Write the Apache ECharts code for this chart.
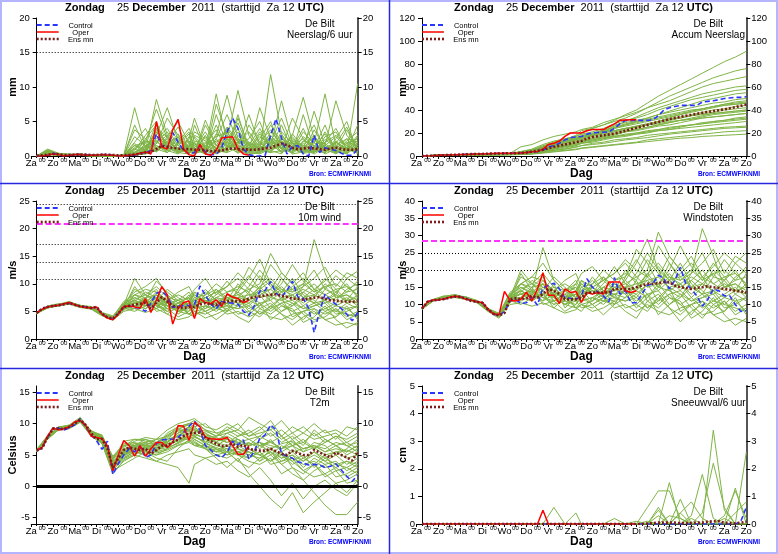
<!DOCTYPE html>
<html><head><meta charset="utf-8">
<script src="https://cdn.jsdelivr.net/npm/echarts@6/dist/echarts.min.js"></script>
<style>html,body{margin:0;padding:0;background:#fff}#c{width:778px;height:554px}</style>
</head><body><div id="c"></div><script>
// ---------- time axes (hours after Za 12 UTC) ----------
const H6 = [6,12,18,24,30,36,42,48,54,60,66,72,78,84,90,96,102,108,114,120,126,132,138,144,150,156,162,168,174,180,186,192,198,204,210,216,222,228,234,240,246,252,258,264,270,276,282,288,294,300,306,312,318,324,330,336,342,348,354,360];
const H12 = [6,18,30,42,54,66,78,90,102,114,126,138,150,162,174,180,192,204,216,228,240,252,264,276,288,300,312,324,336,348,360];
const DAYS = ['Za','Zo','Ma','Di','Wo','Do','Vr','Za','Zo','Ma','Di','Wo','Do','Vr','Za','Zo'];

// ---------- y tick labels ----------
const Y1_TICKS = [0,5,10,15,20];
const Y2_TICKS = [0,20,40,60,80,100,120];
const Y3_TICKS = [0,5,10,15,20,25];
const Y4_TICKS = [0,5,10,15,20,25,30,35,40];
const Y5_TICKS = [-5,0,5,10,15];
const Y6_TICKS = [0,1,2,3,4,5];

// ---------- panel 1: Neerslag/6 uur ----------
const P1_ctrl = [0,0,0.1,0.4,0.2,0,0.1,0.2,0.2,0.2,0.1,0.1,0.2,0.2,0.1,0,0,0.1,0.1,0.4,0.5,0.8,3.2,1.5,1.1,3.4,2.0,0.8,0.3,0.5,1.5,0.6,0.2,0.2,1.2,3.5,5.5,4.0,1.0,0.2,0,0,0.1,3.0,5.4,2.6,0.3,1.4,1.5,0.3,0,3.0,0.5,1.2,1.0,0.8,0.4,0.1,0.1,1.0];
const P1_oper = [0,0,0.1,0.3,0.2,0,0.1,0.2,0.2,0.1,0.1,0.1,0.2,0.1,0.1,0,0,0.1,0.2,0.4,0.6,0.3,5.0,1.3,1.0,3.8,5.3,1.0,0.2,0,1.7,0.3,0.1,0.8,2.6,2.7,2.8,1.0,0.3,0.1];
const P1_mean = [0.05,0.1,0.2,0.3,0.25,0.15,0.15,0.2,0.2,0.2,0.15,0.15,0.2,0.2,0.15,0.1,0.1,0.15,0.2,0.3,0.5,0.6,1.0,1.5,1.3,1.2,1.1,1.0,1.0,0.9,0.9,0.8,0.7,0.7,0.8,1.0,1.1,1.0,1.0,0.9,0.9,1.0,1.1,1.2,1.5,1.8,1.6,1.2,1.0,1.1,1.2,1.1,1.0,0.9,1.1,1.2,1.0,0.9,0.9,1.0];
const P1_members = [
[0,0.5,0.2,0.1,0.2,0.1,0.1,0,0,0.3,0.8,2.5,4.0,1.5,0.5,1.0,0.3,2.0,3.5,1.0,0.2,0.5,3.0,1.2,0.4,2.2,1.5,0.3,1.0,2.5,0.8],
[0,0.8,0.3,0.2,0.3,0.1,0.2,0.1,0.2,1.5,2.0,6.8,2.5,0.8,2.2,0.5,1.2,3.0,8.8,2.5,0.5,1.5,4.5,2.0,1.0,0.5,3.8,1.2,0.6,0.3,1.5],
[0,0.3,0.1,0.3,0.1,0,0.1,0,0.1,7.0,1.2,3.5,1.0,2.8,0.6,0.2,4.5,1.5,0.8,5.5,1.5,0.8,11.8,3.2,0.8,1.8,0.5,2.8,3.5,1.0,0.4],
[0,1.0,0.4,0.2,0.1,0.2,0,0,0,0.5,0.3,1.8,5.5,3.0,1.2,4.5,0.8,0.5,2.5,9.5,3.0,0.8,2.0,5.5,1.5,0.8,1.2,4.5,0.5,1.8,2.5],
[0,0.4,0.2,0.1,0.2,0.1,0.1,0,0.1,2.0,4.0,1.0,0.5,1.8,3.5,1.2,0.4,6.0,1.5,0.5,4.5,2.0,0.8,1.5,3.0,8.5,2.5,0.8,1.2,0.5,10.5],
[0,0.6,0.3,0.2,0.2,0.1,0.1,0.1,0,0.2,0.8,8.2,3.0,0.5,0.3,2.2,1.5,0.8,4.0,1.5,0.8,7.0,2.5,0.5,1.8,0.5,1.0,1.5,8.0,3.0,1.2],
[0,0.2,0.1,0.1,0.1,0,0,0,0,0.1,0.5,1.2,2.0,4.2,1.0,0.5,2.0,1.2,0.5,3.0,1.0,3.5,1.5,8.0,2.0,1.0,6.5,1.5,0.8,0.4,2.0],
[0,0.7,0.2,0.3,0.1,0.1,0,0,0.1,3.8,2.5,4.5,1.5,0.8,2.5,5.5,1.0,9.0,2.0,1.2,0.5,1.0,2.5,1.0,5.5,2.5,0.8,0.5,2.5,5.0,0.6],
[0,0.3,0.4,0.1,0.2,0.1,0.1,0,0,0.5,1.5,2.2,0.8,0.3,1.5,0.8,3.0,0.5,1.8,0.8,2.0,0.8,0.5,2.8,0.8,3.5,1.8,9.0,1.5,0.8,4.5],
[0,0.5,0.1,0.2,0.3,0.1,0.1,0.1,0,0.8,3.0,5.0,0.8,1.2,0.5,1.8,0.5,2.5,6.0,2.0,1.2,0.5,1.8,0.5,1.2,0.8,2.5,0.8,0.5,1.5,0.5],
[0,0.9,0.3,0.1,0.1,0.2,0.1,0,0.1,1.0,0.5,3.0,7.0,2.2,0.8,0.3,1.0,4.5,1.2,6.0,0.8,2.5,5.0,1.0,0.5,6.0,1.0,2.0,4.0,1.0,1.8],
[0,0.2,0.2,0.1,0.2,0,0.1,0,0,0.2,0.3,0.8,1.8,0.5,2.8,1.0,0.3,0.8,0.5,1.2,6.0,1.5,0.8,0.3,2.5,1.0,0.3,1.2,0.6,2.2,3.5],
[0,0.6,0.2,0.2,0.1,0.1,0.1,0,0,4.5,1.0,2.0,3.5,1.0,0.4,3.0,2.2,1.0,2.5,0.6,1.5,4.0,1.2,4.5,0.8,2.0,4.5,0.8,1.5,0.8,0.8],
[0,0.4,0.3,0.1,0.1,0.1,0,0,0,0.3,1.8,0.6,2.8,5.0,1.8,0.8,0.5,7.5,3.0,0.8,0.3,0.6,3.5,1.8,0.3,0.6,0.8,3.5,1.0,3.8,1.0],
[0,0.5,0.2,0.2,0.2,0.1,0.1,0,0.1,1.2,2.2,1.5,0.5,2.0,4.0,2.5,1.0,0.3,1.0,2.5,1.8,1.2,0.5,0.8,2.0,0.3,2.0,0.5,2.0,0.6,2.8],
[0,0.3,0.1,0.1,0.1,0,0,0,0,0.1,0.4,4.0,1.2,0.6,0.8,0.3,5.2,1.5,2.0,4.0,0.6,0.3,1.0,2.2,1.0,0.4,0.6,1.0,0.3,1.2,0.4],
[0,0.4,0.2,0.1,0.1,0.1,0,0,0.1,0.6,1.2,2.8,1.5,3.2,0.8,2.0,0.6,1.5,4.2,2.2,0.8,1.8,2.5,0.6,3.2,1.2,0.5,2.4,1.2,0.5,1.6],
[0,0.6,0.3,0.2,0.2,0.1,0.1,0,0,0.2,2.5,1.0,2.2,0.8,1.5,3.5,2.5,1.0,2.0,4.8,1.0,0.4,1.5,3.0,1.2,4.0,0.6,1.5,2.8,1.2,0.6],
[0,0.3,0.1,0.1,0.2,0,0.1,0,0,1.8,0.6,4.8,1.2,0.4,1.2,0.6,1.8,3.8,0.8,1.8,2.5,5.0,1.0,1.5,0.4,1.5,3.0,0.6,1.8,4.2,1.0],
[0,0.7,0.2,0.2,0.1,0.1,0.1,0.1,0,0.4,1.0,1.8,3.0,1.8,0.6,1.2,3.5,0.8,1.2,2.0,3.5,1.2,2.2,1.0,2.8,0.8,1.2,3.2,0.8,2.0,1.5],
[0,0.2,0.2,0.1,0.1,0.1,0,0,0,0.2,0.6,1.5,0.8,2.5,1.2,0.4,0.8,2.2,1.5,0.4,1.2,2.8,1.8,0.5,1.5,2.5,1.0,0.4,2.2,0.8,1.2],
[0,0.5,0.3,0.2,0.1,0.1,0.1,0,0.1,2.8,1.5,0.8,2.5,1.5,3.2,1.5,0.6,3.2,2.5,1.0,0.5,3.2,1.2,2.5,1.0,0.6,2.2,1.8,0.6,1.0,3.0],
[0,0.4,0.2,0.2,0.2,0.1,0.1,0,0,0.3,0.8,3.5,2.0,1.0,0.5,2.8,1.2,0.6,1.0,3.5,2.0,1.0,0.6,3.5,1.8,1.0,0.5,2.0,3.0,1.5,0.8],
[0,0.8,0.3,0.2,0.2,0.1,0.1,0,0,1.0,2.0,2.2,0.5,1.8,2.2,0.8,2.8,1.0,3.0,1.5,1.0,2.0,3.8,1.5,0.6,2.8,1.5,1.0,1.5,2.5,2.0],
[0,0.3,0.1,0.1,0.1,0,0,0,0,0.5,1.4,0.6,1.8,2.8,1.0,1.8,0.8,2.5,0.6,2.2,1.5,0.6,2.0,1.2,2.2,1.5,0.8,1.5,0.4,1.8,0.6],
[0,0.6,0.2,0.1,0.2,0.1,0.1,0,0.1,1.5,0.8,3.8,2.8,0.6,1.8,1.0,1.5,2.8,3.5,1.0,0.8,1.5,2.5,2.0,0.8,1.2,2.8,1.2,2.0,1.0,2.2]
];

// ---------- panel 2: Accum Neerslag ----------
const P2_ctrl = [0,0.1,0.3,0.6,0.8,0.9,1.0,1.2,1.4,1.6,1.7,1.8,2.0,2.2,2.3,2.3,2.4,2.5,2.6,3.0,3.5,3.8,5.0,8.0,9.0,11.0,14.0,16.0,16.5,17.0,19.0,20.0,20.5,20.7,21.0,24.0,28.0,31.0,31.0,31.0,31.0,31.0,31.5,35.0,40.0,42.0,43.0,44.0,44.0,44.0,44.0,47.0,47.5,48.0,49.0,50.0,50.5,51.0,51.0,51.5];
const P2_oper = [0,0.1,0.3,0.6,0.8,0.9,1.0,1.2,1.4,1.6,1.7,1.8,2.0,2.2,2.3,2.3,2.4,2.5,2.6,3.0,3.6,3.9,6.0,10.0,11.0,13.0,17.0,20.0,20.0,20.0,22.0,23.0,23.0,23.0,25.5,28.0,31.0,31.3,31.5,31.5];
const P2_mean = [0,0.1,0.3,0.5,0.7,0.9,1.0,1.2,1.4,1.6,1.7,1.8,2.0,2.1,2.2,2.3,2.4,2.5,2.7,3.0,3.8,4.5,5.5,6.8,8.0,9.0,10.0,11.0,12.0,13.0,15.2,16.5,17.2,18.0,18.7,19.5,20.7,22.0,23.3,24.5,25.8,27.0,28.3,29.6,30.8,32.0,33.0,34.0,35.0,35.8,36.7,37.5,38.3,39.0,39.8,40.5,41.5,42.5,43.6,44.8];
const P2_members = [
[0,0.5,0.8,1.0,1.3,1.5,1.7,1.8,2.0,3.0,4.5,8,12,15,17,20,24,27,31,36,40,46,52,57,62,67,72,77,82,86,91],
[0,0.4,0.7,0.9,1.1,1.3,1.5,1.6,1.8,2.5,3.5,6,10,14,18,22,24,27,30,33,37,42,47,52,56,60,64,68,71,74,76],
[0,0.6,0.9,1.1,1.4,1.6,1.8,2.0,2.3,8,10,14,17,19,21,23,25,29,32,35,38,42,45,48,52,56,60,63,65,67,69],
[0,0.3,0.6,0.8,1.0,1.2,1.4,1.5,1.7,2.2,3.0,5,8,11,14,16,19,22,26,30,34,38,42,45,48,51,54,56,58,60,61],
[0,0.5,0.8,1.0,1.2,1.4,1.6,1.8,2.0,4,6,10,13,15,17,19,21,24,28,31,33,36,40,43,46,49,51,53,55,57,58],
[0,0.4,0.6,0.8,1.0,1.2,1.3,1.4,1.6,2.0,2.8,4.5,7,9,12,15,18,21,24,27,30,33,36,39,42,45,48,50,52,54,55],
[0,0.7,1.0,1.2,1.4,1.6,1.8,1.9,2.1,3.5,5.5,9,12,14,16,17,19,23,27,29,31,33,36,38,40,42,44,46,47,49,50],
[0,0.3,0.5,0.7,0.9,1.0,1.2,1.3,1.4,1.8,2.5,4,6,8,10,12,14,16,18,21,24,27,30,33,36,39,41,43,45,46,47],
[0,0.5,0.7,0.9,1.1,1.3,1.4,1.5,1.7,2.5,4.0,7,10,12,14,16,18,20,22,24,26,28,30,32,34,36,38,40,41,43,44],
[0,0.4,0.6,0.8,1.0,1.1,1.2,1.3,1.5,2.2,3.0,5,7,9,11,13,15,17,19,21,23,25,27,29,31,33,35,37,38,39,40],
[0,0.6,0.9,1.1,1.3,1.5,1.6,1.7,1.9,3.0,5.0,8,11,13,15,17,19,21,22,24,25,27,28,30,31,32,33,34,35,36,37],
[0,0.3,0.5,0.6,0.8,0.9,1.0,1.1,1.2,1.5,2.0,3.5,5,7,9,11,13,15,17,19,20,22,23,25,26,27,29,30,31,32,33],
[0,0.5,0.7,0.9,1.0,1.2,1.3,1.4,1.5,2.0,3.0,5,7,9,11,13,14,16,17,18,19,21,22,23,24,25,26,27,28,29,30],
[0,0.4,0.6,0.7,0.9,1.0,1.1,1.2,1.3,1.6,2.2,3.5,5,6,8,9,11,12,14,15,16,18,19,20,21,22,23,24,25,25.5,26],
[0,0.3,0.5,0.6,0.7,0.8,0.9,1.0,1.1,1.4,2.0,3,4,5,6,7,8,9,10,11,12,14,15,16,17,18,19,20,21,21.5,22],
[0,0.3,0.4,0.5,0.6,0.7,0.8,0.9,1.0,1.2,1.6,2.5,3.5,4.5,5.5,6.5,7.5,8.5,9.5,10.5,11.5,12.5,13.5,14.5,15.5,16,17,17.5,18,18.5,19],
[0,0.4,0.7,0.9,1.1,1.2,1.4,1.5,1.7,2.4,3.6,6,9,11,13,15,17,19,21,23,25,27,29,31,33,35,37,38,40,41,42],
[0,0.5,0.8,1.0,1.2,1.4,1.5,1.6,1.8,3.2,4.8,7,10,13,15,16,18,21,24,26,28,30,32,34,36,38,40,42,44,45,46],
[0,0.3,0.5,0.7,0.9,1.0,1.1,1.2,1.3,1.7,2.4,4,6,8,9,11,12,14,16,17,19,20,22,23,25,27,28,30,31,33,34],
[0,0.6,0.8,1.0,1.2,1.4,1.6,1.7,1.9,2.8,4.2,7,11,14,16,18,20,22,25,28,30,32,34,36,38,40,41,43,45,47,48],
[0,0.4,0.6,0.8,1.0,1.1,1.2,1.3,1.5,2.0,2.8,4.5,6.5,8.5,10,11.5,13,15,17,18,20,21,23,24,26,27,28,29,30,31,32],
[0,0.5,0.7,0.9,1.1,1.3,1.4,1.5,1.7,2.6,3.8,6,8,10,12,14,16,18,20,22,23,25,27,29,31,32,34,36,37,38,39],
[0,0.3,0.5,0.7,0.8,0.9,1.0,1.1,1.2,1.6,2.2,3.5,5,6,7.5,9,10,11,12.5,14,15,16,17.5,19,20,21,22,23,24,24.5,25],
[0,0.6,0.9,1.1,1.3,1.5,1.7,1.8,2.0,3.5,5.2,8,11,13,15,17,18,20,22,24,26,28,30,32,33,35,36,37,38,39,40],
[0,0.4,0.7,0.8,1.0,1.2,1.3,1.4,1.6,2.3,3.3,5.5,8,10,12,13,15,17,19,21,22,24,26,27,29,31,33,34,35,36,37],
[0,0.5,0.8,1.0,1.1,1.3,1.5,1.6,1.8,2.9,4.4,6.5,9,12,14,16,19,22,25,27,29,31,33,35,37,39,41,43,44,45,46]
];

// ---------- panel 3: 10m wind ----------
const P3_ctrl = [4.7,5.5,5.8,6.0,6.1,6.3,6.5,6.2,5.9,5.8,5.6,5.8,4.5,3.9,3.6,4.6,5.8,6.0,5.7,5.6,5.0,6.5,8.3,8.6,7.8,5.7,6.0,6.0,6.1,6.2,9.6,8.0,6.3,5.5,6.8,6.6,6.5,6.3,5.0,4.3,6.0,8.7,8.8,10.4,8.3,7.6,8.8,10.5,7.6,7.4,5.5,1.2,5.0,8.1,7.0,6.3,5.5,4.5,3.3,4.8];
const P3_oper = [4.7,5.4,5.8,6.0,6.1,6.4,6.6,6.2,5.9,5.7,5.6,5.8,4.5,3.8,3.5,4.5,5.9,6.0,5.8,5.6,7.3,4.8,7.0,9.5,8.0,2.7,5.5,6.6,6.9,3.7,7.3,6.6,6.4,7.1,5.9,8.2,7.6,7.3,6.6,7.0];
const P3_mean = [4.7,5.5,5.8,6.0,6.1,6.3,6.5,6.2,5.9,5.8,5.6,5.8,4.6,3.9,3.7,4.6,5.8,6.0,6.2,6.4,6.6,5.5,6.6,7.6,6.8,6.0,5.7,5.6,5.8,5.8,6.3,6.5,6.3,6.2,6.5,6.8,6.9,6.8,7.0,7.3,7.6,7.7,7.9,8.0,8.1,7.8,7.6,7.3,7.3,7.1,7.3,7.5,7.6,7.3,7.0,7.0,6.8,6.8,6.7,6.9];
const P3_members = [
[4.8,5.9,6.3,6.8,6.0,5.9,4.8,4.2,6.5,8.5,9.5,11.0,8.0,6.5,7.5,9.0,11.0,8.0,9.5,12.0,10.0,9.0,13.5,11.0,9.0,10.0,12.5,9.0,8.0,11.0,12.3],
[4.6,5.6,6.0,6.3,5.7,5.4,4.2,3.4,5.0,5.5,4.8,5.5,4.5,3.5,4.0,5.0,3.8,4.5,5.5,4.0,3.0,5.5,6.5,4.5,2.5,4.0,5.0,3.5,2.5,3.0,2.5],
[4.7,5.8,6.2,6.6,6.1,5.8,4.6,3.6,6.2,11.0,8.0,7.0,9.0,7.5,6.0,8.5,6.5,9.0,7.0,8.5,11.0,14.5,10.0,8.5,11.0,8.0,6.5,9.0,11.5,9.5,8.0],
[4.9,6.0,6.4,6.4,5.8,5.5,4.4,3.9,5.5,6.0,7.5,9.0,6.0,5.0,6.5,5.5,7.5,6.0,8.0,7.0,6.0,8.0,9.0,12.0,10.0,7.5,9.0,6.5,7.5,8.5,10.5],
[4.6,5.7,6.0,6.6,6.0,5.6,4.5,3.7,5.8,7.0,6.0,8.0,5.5,4.0,5.0,6.5,5.0,3.5,5.0,6.0,8.5,5.5,4.5,6.0,5.0,3.5,5.5,4.5,5.5,4.0,5.0],
[4.8,5.9,6.1,6.5,5.9,5.7,4.7,4.0,6.8,8.0,7.0,10.5,8.5,7.0,7.5,6.0,8.0,10.0,8.5,9.0,13.0,11.0,8.0,10.0,13.5,10.5,8.5,11.0,9.0,7.0,9.5],
[4.7,5.8,6.1,6.4,5.9,5.6,4.5,3.8,5.6,5.0,6.0,6.5,4.5,6.0,4.5,4.0,6.0,5.0,6.5,4.5,5.0,6.5,3.5,5.0,6.5,4.5,3.0,5.0,4.0,6.0,3.5],
[4.7,5.7,6.2,6.7,6.0,5.5,4.3,3.5,5.2,6.8,8.5,7.5,7.0,8.5,9.5,7.5,6.5,8.0,10.5,8.0,7.0,9.0,10.5,8.5,7.0,9.5,18.0,12.0,7.5,8.0,6.5],
[4.6,5.8,6.0,6.5,5.8,5.7,4.6,3.9,6.0,6.5,5.5,7.0,6.0,5.5,7.0,8.0,7.0,6.5,7.0,10.0,8.0,6.5,7.0,5.0,6.0,8.5,7.0,5.5,6.5,7.5,6.0],
[4.8,5.9,6.2,6.5,6.0,5.6,4.4,3.7,5.7,9.5,7.0,6.0,5.0,6.5,5.5,6.5,9.0,7.0,5.0,7.5,9.5,12.5,10.0,7.0,8.0,6.0,7.5,10.0,8.5,10.0,7.5],
[4.7,5.7,6.1,6.6,5.9,5.5,4.5,3.6,5.9,6.0,6.8,5.5,8.0,4.5,6.0,7.0,5.5,7.5,6.0,5.5,6.5,4.5,6.0,7.5,4.0,5.0,6.0,7.0,5.0,4.5,4.0],
[4.8,5.8,6.2,6.4,6.1,5.7,4.6,3.8,6.3,7.5,6.5,8.5,7.0,6.0,8.0,6.5,7.5,8.5,9.5,11.0,9.0,10.0,15.5,12.0,10.0,12.0,9.0,10.5,12.5,11.0,9.5],
[4.6,5.8,6.0,6.5,5.9,5.6,4.4,3.6,5.4,6.0,6.5,7.5,6.5,5.0,4.5,5.5,6.0,5.5,7.5,6.5,4.5,6.0,8.0,6.0,5.5,3.0,4.0,6.0,3.5,2.0,3.0],
[4.7,5.9,6.1,6.6,6.0,5.7,4.5,3.8,6.0,6.5,7.0,6.0,5.5,6.0,6.5,5.0,5.5,6.5,8.0,7.5,7.0,9.5,7.5,9.0,8.0,6.5,8.0,7.0,8.5,6.5,8.0],
[4.7,5.8,6.1,6.5,5.8,5.6,4.5,3.7,5.8,7.0,6.0,6.5,5.0,5.5,5.0,6.0,5.0,6.0,5.5,7.0,6.5,8.0,5.5,7.5,6.5,5.5,6.5,5.0,6.0,5.5,6.0],
[4.8,5.8,6.2,6.5,6.0,5.6,4.6,3.9,6.1,8.0,9.0,8.5,6.5,7.0,6.0,7.0,8.5,7.0,6.0,9.0,11.5,9.0,7.5,11.0,8.5,9.5,11.0,13.0,9.5,12.0,11.0],
[4.7,5.8,6.2,6.6,6.0,5.6,4.5,3.7,6.0,7.2,8.0,6.5,7.5,6.0,7.0,8.0,6.5,7.5,7.0,8.5,7.0,8.5,9.0,7.5,8.0,9.0,8.0,7.0,8.0,7.0,7.5],
[4.8,5.9,6.1,6.5,5.9,5.7,4.6,3.8,5.9,6.0,5.5,6.5,6.0,7.0,5.5,6.5,7.0,5.5,6.0,5.5,6.0,4.5,5.5,6.5,5.0,6.0,4.5,5.5,5.0,6.5,5.5],
[4.6,5.7,6.0,6.4,5.8,5.5,4.4,3.6,5.6,8.0,7.5,8.0,6.0,5.0,6.0,7.5,8.0,9.0,7.5,6.5,7.5,9.5,11.0,9.0,8.5,10.0,8.5,9.5,10.0,8.5,9.0],
[4.7,5.8,6.1,6.5,6.0,5.7,4.5,3.8,6.2,7.0,6.2,7.0,5.5,6.5,7.5,5.5,6.0,7.0,6.5,7.0,5.5,6.5,5.0,6.5,7.0,5.5,6.0,6.5,4.5,5.0,6.0],
[4.8,5.8,6.2,6.6,5.9,5.6,4.6,3.7,5.8,6.5,7.0,6.0,6.8,5.8,6.5,7.0,7.5,6.5,7.5,8.0,9.0,7.5,8.0,9.5,7.5,8.5,10.0,8.0,9.0,9.5,8.0],
[4.7,5.7,6.0,6.5,6.0,5.6,4.5,3.7,5.7,5.5,6.5,5.5,6.5,5.0,5.5,4.5,5.0,6.0,4.5,5.0,4.0,5.0,4.0,3.5,4.5,5.0,3.5,4.0,5.5,3.5,4.5],
[4.6,5.8,6.1,6.4,5.8,5.6,4.5,3.8,6.0,9.0,8.0,9.5,7.5,7.0,8.5,7.0,6.5,7.5,8.5,9.5,8.5,11.5,9.5,8.0,9.5,11.0,9.0,8.0,7.0,9.0,10.0],
[4.8,5.9,6.2,6.6,6.1,5.7,4.6,3.9,6.1,6.5,6.0,7.5,6.5,6.0,6.5,6.0,7.0,6.0,6.5,6.0,7.0,6.0,7.5,7.0,6.0,7.5,6.5,7.0,6.0,7.0,6.5],
[4.7,5.8,6.1,6.5,5.9,5.6,4.5,3.7,5.5,6.0,7.5,5.0,5.5,6.5,4.5,5.0,4.5,5.5,5.0,7.5,5.0,4.0,6.0,4.5,3.5,5.0,5.5,3.5,4.0,5.5,4.0],
[4.7,5.8,6.2,6.5,6.0,5.6,4.6,3.8,6.4,7.5,6.8,8.0,7.0,8.0,7.0,8.5,7.5,8.5,7.0,7.5,8.0,8.5,7.0,8.5,9.0,7.5,8.0,9.5,7.5,8.0,7.0]
];

// ---------- panel 4: Windstoten ----------
const P4_ctrl = [8.8,10.8,11.2,11.3,11.5,12.0,12.3,12.2,11.8,11.0,10.8,10.5,8.5,7.2,6.8,8.0,11.0,11.5,10.3,10.5,12.0,9.8,14.8,15.5,16.2,14.5,12.0,11.8,11.5,12.5,17.5,15.0,13.5,12.5,10.8,17.8,13.0,14.0,10.5,10.5,13.0,15.5,16.0,18.5,17.5,14.5,17.0,20.8,16.0,14.5,12.5,9.5,11.5,14.5,14.0,12.5,12.5,10.0,8.0,8.2];
const P4_oper = [8.8,10.8,11.3,11.4,11.6,12.1,12.4,12.2,11.5,11.2,10.8,10.6,8.6,7.3,7.0,13.8,11.2,11.0,11.5,13.6,11.0,14.5,19.2,12.7,12.7,10.3,14.5,13.5,13.8,10.6,13.5,13.0,13.5,13.0,16.5,16.5,16.5,14.0,13.5,14.0];
const P4_mean = [8.8,10.8,11.2,11.4,11.6,12.0,12.3,12.2,11.6,11.0,10.8,10.5,8.6,7.3,6.8,7.5,11.5,11.8,11.5,11.8,12.5,12.0,13.0,14.5,14.0,13.0,11.5,11.5,11.5,12.0,13.3,13.5,13.5,13.5,13.5,14.5,14.5,14.5,14.5,15.0,15.5,16.0,16.0,16.2,16.5,16.5,15.5,15.0,14.8,14.5,14.8,15.0,15.3,15.0,14.8,14.5,14.3,14.0,13.8,13.5];
const P4_members = [
[8.7,11.0,12.2,12.8,12.0,11.0,8.8,7.5,13.0,16.0,18.0,22.0,17.0,14.0,16.0,19.0,21.0,17.0,19.0,23.0,20.0,18.0,27.0,22.0,18.0,20.0,25.0,18.0,17.0,22.0,25.0],
[8.9,11.3,11.8,12.0,11.5,10.5,8.0,6.0,10.0,10.5,9.5,10.5,9.0,7.5,8.5,10.0,8.0,9.0,11.0,8.0,6.0,11.0,13.0,9.0,5.0,8.0,10.0,7.0,5.0,6.0,5.0],
[8.8,11.2,12.3,12.5,12.2,11.2,8.6,6.5,12.0,20.0,16.0,14.0,18.0,15.0,12.0,17.0,13.0,18.0,14.0,17.0,22.0,29.0,20.0,17.0,22.0,16.0,13.0,18.0,23.0,19.0,16.0],
[9.0,11.5,12.5,12.1,11.6,10.8,8.3,7.0,11.0,12.0,15.0,18.0,12.0,10.0,13.0,11.0,15.0,12.0,16.0,14.0,12.0,16.0,18.0,24.0,20.0,15.0,18.0,13.0,15.0,17.0,21.0],
[8.6,11.0,11.9,12.4,12.0,10.9,8.4,6.6,11.5,14.0,12.0,16.0,11.0,8.0,10.0,13.0,10.0,7.0,10.0,12.0,17.0,11.0,9.0,12.0,10.0,7.0,11.0,9.0,11.0,8.0,10.0],
[8.9,11.4,12.1,12.6,11.9,11.1,8.9,7.2,13.5,16.0,14.0,26.5,17.0,14.0,15.0,12.0,16.0,20.0,17.0,18.0,26.0,22.0,16.0,20.0,27.0,21.0,17.0,22.0,18.0,14.0,19.0],
[8.7,11.1,11.8,12.2,11.8,10.7,8.2,6.8,11.2,10.0,12.0,13.0,9.0,12.0,9.0,8.0,12.0,10.0,13.0,9.0,10.0,13.0,7.0,10.0,13.0,9.0,6.0,10.0,8.0,12.0,7.0],
[8.8,11.2,12.4,12.9,12.1,10.6,8.1,6.4,10.5,13.5,17.0,15.0,14.0,17.0,19.0,15.0,13.0,16.0,21.0,16.0,14.0,18.0,21.0,17.0,14.0,19.0,32.0,24.0,15.0,16.0,13.0],
[8.7,11.3,12.0,12.3,11.7,11.0,8.7,7.0,12.0,13.0,11.0,14.0,12.0,11.0,14.0,16.0,14.0,13.0,14.0,20.0,16.0,13.0,14.0,10.0,12.0,17.0,14.0,11.0,13.0,15.0,12.0],
[8.9,11.4,12.2,12.5,11.9,10.8,8.4,6.7,11.4,19.0,14.0,12.0,10.0,13.0,11.0,13.0,18.0,14.0,10.0,15.0,19.0,25.0,20.0,14.0,16.0,12.0,15.0,20.0,17.0,20.0,15.0],
[8.8,11.1,12.1,12.6,11.8,10.6,8.5,6.6,11.8,12.0,13.6,11.0,16.0,9.0,12.0,14.0,11.0,15.0,12.0,11.0,13.0,9.0,12.0,15.0,8.0,10.0,12.0,14.0,10.0,9.0,8.0],
[8.9,11.2,12.2,12.4,12.2,10.9,8.6,6.9,12.6,15.0,13.0,17.0,14.0,12.0,16.0,13.0,15.0,17.0,19.0,22.0,18.0,20.0,31.0,24.0,20.0,24.0,18.0,21.0,25.0,22.0,19.0],
[8.6,11.1,11.9,12.5,11.8,10.7,8.3,6.5,10.8,12.0,13.0,15.0,13.0,10.0,9.0,11.0,12.0,11.0,15.0,13.0,9.0,12.0,16.0,12.0,11.0,6.0,8.0,12.0,7.0,4.0,6.0],
[8.8,11.3,12.0,12.6,12.0,10.9,8.5,6.8,12.0,13.0,14.0,12.0,11.0,12.0,13.0,10.0,11.0,13.0,16.0,15.0,14.0,19.0,15.0,18.0,16.0,13.0,16.0,14.0,17.0,13.0,16.0],
[8.7,11.2,12.1,12.4,11.7,10.8,8.4,6.7,11.6,14.0,12.0,13.0,10.0,11.0,10.0,12.0,10.0,12.0,11.0,14.0,13.0,16.0,11.0,15.0,13.0,11.0,13.0,10.0,12.0,11.0,12.0],
[8.9,11.2,12.3,12.5,12.0,10.8,8.6,7.1,12.2,16.0,18.0,17.0,13.0,14.0,12.0,14.0,17.0,14.0,12.0,18.0,23.0,18.0,15.0,22.0,17.0,19.0,22.0,26.0,19.0,24.0,22.0],
[8.8,11.2,12.2,12.6,11.9,10.8,8.5,6.8,11.8,14.5,16.0,13.0,15.0,12.0,14.0,16.0,13.0,15.0,14.0,17.0,14.0,17.0,18.0,15.0,16.0,18.0,16.0,14.0,16.0,14.0,15.0],
[8.8,11.3,12.1,12.5,11.8,10.9,8.6,6.9,11.6,12.0,11.0,13.0,12.0,14.0,11.0,13.0,14.0,11.0,12.0,11.0,12.0,9.0,11.0,13.0,10.0,12.0,9.0,11.0,10.0,13.0,11.0],
[8.7,11.0,11.9,12.3,11.7,10.7,8.3,6.6,11.2,16.0,15.0,16.0,12.0,10.0,12.0,15.0,16.0,18.0,15.0,13.0,15.0,19.0,22.0,18.0,17.0,20.0,17.0,19.0,20.0,17.0,18.0],
[8.8,11.2,12.1,12.4,12.0,10.9,8.5,6.9,12.4,14.0,12.4,14.0,11.0,13.0,15.0,11.0,12.0,14.0,13.0,14.0,11.0,13.0,10.0,13.0,14.0,11.0,12.0,13.0,9.0,10.0,12.0],
[8.9,11.2,12.2,12.6,11.9,10.8,8.6,6.8,11.6,13.0,14.0,12.0,13.6,11.6,13.0,14.0,15.0,13.0,15.0,16.0,18.0,15.0,16.0,19.0,15.0,17.0,20.0,16.0,18.0,19.0,16.0],
[8.8,11.1,12.0,12.5,12.0,10.8,8.5,6.7,11.4,11.0,13.0,11.0,13.0,10.0,11.0,9.0,10.0,12.0,9.0,10.0,8.0,10.0,8.0,7.0,9.0,10.0,7.0,8.0,11.0,7.0,9.0],
[8.7,11.2,12.1,12.4,11.8,10.7,8.4,6.7,11.9,18.0,16.0,19.0,15.0,14.0,17.0,14.0,13.0,15.0,17.0,19.0,17.0,23.0,19.0,16.0,19.0,22.0,18.0,16.0,14.0,18.0,20.0],
[8.9,11.3,12.2,12.6,12.1,10.9,8.6,7.0,12.1,13.0,12.0,15.0,13.0,12.0,13.0,12.0,14.0,12.0,13.0,12.0,14.0,12.0,15.0,14.0,12.0,15.0,13.0,14.0,12.0,14.0,13.0],
[8.8,11.2,12.1,12.5,11.9,10.8,8.5,6.8,11.0,12.0,15.0,10.0,11.0,13.0,9.0,10.0,9.0,11.0,10.0,15.0,10.0,8.0,12.0,9.0,7.0,10.0,11.0,7.0,8.0,11.0,8.0],
[8.8,11.2,12.2,12.5,12.0,10.8,8.6,6.9,12.8,15.0,13.6,16.0,14.0,16.0,14.0,17.0,15.0,17.0,14.0,15.0,16.0,17.0,14.0,17.0,18.0,15.0,16.0,19.0,15.0,16.0,14.0]
];

// ---------- panel 5: T2m ----------
const P5_ctrl = [5.7,6.1,7.8,9.3,9.3,9.0,9.3,9.8,10.8,9.5,8.2,7.3,5.9,7.2,1.9,3.6,5.0,6.0,5.5,6.4,4.6,5.0,6.8,7.4,7.5,7.5,7.8,8.6,9.6,10.4,9.0,6.5,5.8,5.0,4.6,5.4,7.2,6.6,7.4,4.3,5.6,7.6,8.2,9.8,9.0,5.2,4.8,4.5,3.9,3.7,3.4,3.5,3.4,3.0,3.2,3.6,2.6,1.6,0.8,1.8];
const P5_oper = [5.8,6.2,8.0,9.3,9.0,9.2,9.5,10.3,10.5,9.7,8.0,7.8,7.6,6.5,2.5,5.0,7.3,6.5,4.8,6.5,4.8,6.0,7.0,7.0,6.2,7.0,9.7,9.6,7.3,10.2,9.5,7.8,7.6,7.5,7.5,7.8,6.5,5.1,5.1,6.5];
const P5_mean = [5.7,6.1,7.8,9.2,9.2,9.1,9.5,10.0,10.6,9.8,8.5,7.5,7.6,6.0,3.0,4.5,5.8,6.2,6.0,5.8,6.0,5.2,5.8,6.5,6.5,7.0,7.5,8.0,8.5,8.5,8.6,7.8,7.2,6.8,6.4,6.5,6.8,6.3,6.6,6.0,5.8,5.7,5.7,6.0,5.6,5.2,5.0,5.7,5.3,5.0,5.0,5.8,5.4,5.0,4.6,5.4,5.0,4.6,4.1,5.5];
const P5_members = [
[5.6,7.6,9.4,9.8,11.0,8.8,8.2,4.5,6.5,6.8,7.0,7.5,9.0,10.0,10.5,10.8,9.5,9.0,10.0,9.0,11.0,10.0,9.0,10.5,8.5,9.5,8.0,9.0,7.5,9.5,9.0],
[5.5,7.5,9.0,9.2,10.2,8.0,6.8,2.2,4.0,5.0,4.5,4.0,5.0,5.5,6.0,5.0,4.5,3.5,4.0,2.5,1.5,3.0,1.0,-1.5,0.5,-2.0,0.0,1.0,-0.5,-1.5,0.5],
[5.8,8.0,9.5,9.6,10.8,8.6,7.8,3.5,5.5,6.5,7.0,6.5,8.5,9.5,10.0,9.5,8.0,7.0,8.5,7.5,6.5,8.0,7.0,6.0,7.5,5.5,7.0,6.5,5.0,6.0,7.5],
[5.7,7.8,9.1,9.5,10.4,8.3,7.0,2.5,3.5,4.5,5.5,4.5,4.0,6.0,7.5,6.5,6.0,4.5,3.0,4.5,2.0,0.0,-2.0,-3.5,-1.0,-4.2,-2.5,-1.0,0.5,-1.0,1.0],
[5.9,8.1,9.3,9.7,10.7,8.9,8.0,4.8,6.8,7.0,6.5,7.5,7.0,8.5,9.5,9.0,8.5,7.5,7.0,8.0,9.0,7.5,8.5,7.0,8.0,6.5,9.0,7.5,6.5,5.5,6.5],
[5.6,7.7,9.2,9.4,10.5,8.4,7.2,3.0,4.5,5.5,5.0,4.0,3.5,3.0,0.5,3.5,4.5,5.0,5.5,4.0,3.0,4.5,5.5,3.5,2.0,1.0,-1.0,-3.0,-4.5,-4.5,-2.5],
[5.7,7.9,9.4,9.6,10.9,8.7,7.7,3.8,5.8,6.2,6.8,5.5,7.5,8.0,9.0,9.5,10.0,8.5,7.5,6.5,7.0,6.0,7.5,5.5,6.5,4.5,5.5,4.0,5.0,3.5,4.5],
[5.8,7.9,9.1,9.5,10.6,8.5,7.6,3.3,5.3,6.0,6.2,5.8,6.5,7.5,8.5,8.0,7.0,6.0,5.0,6.5,5.5,4.0,6.0,5.0,3.5,4.5,3.5,5.0,2.5,3.0,2.0],
[5.5,7.6,9.0,9.3,10.3,8.2,6.9,2.0,4.2,5.0,6.0,6.8,7.0,8.5,9.0,8.5,7.5,7.0,6.5,7.5,6.5,7.0,5.0,6.5,5.5,6.0,6.5,5.5,6.5,5.0,6.0],
[5.7,7.7,9.3,9.6,10.6,8.6,7.5,3.6,6.0,6.5,5.8,6.0,7.5,9.0,10.0,10.5,9.0,8.0,9.0,10.0,8.0,9.0,10.5,8.0,9.5,8.5,10.0,8.5,9.0,8.0,9.5],
[5.6,7.8,9.2,9.4,10.5,8.4,7.3,3.0,5.0,5.8,6.0,5.5,6.0,7.0,8.0,7.5,6.5,5.5,6.0,5.0,4.5,5.5,3.5,4.0,5.0,3.0,4.5,3.5,4.0,2.5,3.5],
[5.8,7.9,9.5,9.7,10.8,8.7,7.9,4.2,7.2,7.5,7.5,6.5,7.0,8.0,9.5,9.0,8.5,7.0,5.5,4.0,6.0,5.0,4.0,5.5,3.0,2.0,3.5,1.5,2.5,0.5,1.0],
[5.7,7.8,9.2,9.5,10.5,8.5,7.5,3.4,5.2,6.0,6.3,6.2,6.8,7.5,8.0,7.8,7.2,6.5,7.5,6.8,6.5,7.0,6.0,6.8,7.2,6.0,6.5,6.0,7.0,6.5,7.0],
[5.6,7.7,9.0,9.4,10.4,8.3,7.1,2.8,4.6,5.5,5.2,5.0,5.5,6.5,7.0,6.5,6.5,5.5,5.5,5.0,4.0,3.5,4.5,2.0,3.0,1.0,2.5,3.5,1.5,2.0,3.0],
[5.8,8.0,9.4,9.6,10.7,8.8,8.1,4.6,6.6,6.5,7.5,7.0,8.0,9.0,9.0,8.0,7.0,8.0,9.5,8.5,7.5,8.0,9.5,8.0,6.5,7.5,6.0,7.0,8.0,6.5,5.5],
[5.7,7.8,9.3,9.5,10.6,8.5,7.4,3.2,5.4,6.2,6.0,5.8,6.2,6.8,7.8,7.2,6.0,5.0,4.5,5.5,5.0,6.5,5.5,4.5,5.5,4.0,5.0,4.0,3.0,4.0,3.5],
[5.7,7.8,9.2,9.6,10.6,8.6,7.6,3.5,5.6,6.8,6.5,6.0,7.0,8.5,9.5,9.0,8.0,7.5,8.0,7.0,7.5,6.5,7.0,8.0,6.5,7.0,6.0,7.5,6.5,7.0,6.0],
[5.6,7.7,9.1,9.5,10.5,8.4,7.2,2.9,4.8,5.8,6.4,6.5,7.5,8.0,8.5,8.5,7.5,6.5,6.0,5.5,6.0,5.0,6.0,4.5,5.0,4.0,5.5,4.5,3.5,4.0,3.0],
[5.8,7.9,9.3,9.7,10.7,8.7,7.8,4.0,6.2,7.2,7.8,7.5,8.0,9.5,10.0,10.0,9.0,8.5,9.0,8.0,8.5,9.5,8.0,9.0,7.5,8.5,7.5,8.0,8.5,7.0,8.0],
[5.7,7.8,9.2,9.5,10.6,8.5,7.4,3.2,5.0,6.0,5.5,5.0,6.0,7.0,8.0,7.5,6.5,6.0,5.0,5.5,4.5,5.5,4.0,5.0,4.0,2.5,3.5,2.0,3.0,1.5,2.5],
[5.6,7.7,9.2,9.5,10.5,8.5,7.3,3.3,5.5,6.3,6.8,6.8,7.8,8.8,9.2,8.8,8.2,7.8,7.0,7.5,6.5,7.0,6.5,6.0,7.0,6.0,6.5,5.5,6.0,5.5,6.5],
[5.7,7.9,9.3,9.6,10.7,8.6,7.7,3.7,5.8,6.5,6.2,5.6,6.8,7.2,8.2,8.0,6.8,6.2,5.5,6.0,5.0,4.5,5.5,4.0,4.5,3.5,4.0,3.0,3.5,3.0,4.0],
[5.8,8.0,9.4,9.7,10.8,8.8,7.9,4.3,6.4,7.5,7.2,7.0,8.2,9.2,9.8,9.2,8.8,8.0,8.5,9.0,8.0,8.5,9.0,7.5,8.5,7.0,8.5,7.0,8.0,7.5,8.5],
[5.6,7.6,9.1,9.4,10.4,8.3,7.0,2.6,4.4,5.2,5.8,6.2,6.5,7.5,7.5,7.0,6.0,5.5,6.5,6.0,5.5,5.0,4.0,5.5,4.0,5.0,3.0,4.5,5.5,4.5,5.0],
[5.7,7.8,9.2,9.5,10.6,8.5,7.5,3.4,5.2,6.4,6.6,6.4,7.2,8.2,8.8,8.2,7.8,7.2,7.5,7.0,6.8,6.5,7.2,6.0,6.5,5.5,6.2,5.0,5.5,5.8,5.0],
[5.7,7.7,9.2,9.5,10.5,8.4,7.2,3.0,5.0,5.6,5.6,5.3,5.8,6.6,7.2,6.8,6.2,5.8,6.5,5.0,5.5,4.0,5.0,3.5,4.5,2.5,1.5,2.0,0.5,1.0,2.0]
];

// ---------- panel 6: Sneeuwval/6 uur ----------
const P6_ctrl = [0,0,0,0,0,0,0,0,0,0,0,0,0,0,0,0,0,0,0,0,0,0,0,0,0,0,0,0,0,0,0,0,0,0,0,0,0,0,0,0,0,0,0,0,0,0,0,0,0,0,0,0,0,0,0,0,0,0,0.1,0.6];
const P6_oper = [0,0,0,0,0,0,0,0,0,0,0,0,0,0,0,0,0,0,0,0,0,0,0.5,0,0,0,0,0,0,0,0,0,0,0,0,0,0,0,0,0];
const P6_mean = [0,0,0,0,0,0,0,0,0,0,0,0,0,0,0,0,0,0,0,0,0,0,0,0,0,0,0,0,0,0,0,0,0,0,0,0,0,0,0,0,0,0.02,0.03,0.05,0.05,0.05,0.05,0.03,0.03,0.04,0.05,0.05,0.08,0.1,0.1,0.05,0.03,0.02,0.05,0.08];
const P6_members = [
[0,0,0,0,0,0,0,0,0,0,0,0,0.6,0,0,0,0,0,0,0,0,0,0.6,0,0.9,0,0,3.4,0.5,0,0],
[0,0,0,0,0,0,0,0,0,0,0,0,0,0,0.4,0,0,0,0,0,0,0,0,1.5,0,0.3,1.8,0.2,0,0,0],
[0,0,0,0,0,0,0,0,0,0,0,0,0,0,0,0,0,0,0.2,0,0,0.6,1.2,1.2,0.2,0,0,0,0,1.3,0],
[0,0,0,0,0,0,0,0,0,0,0,0,0,0,0,0,0,0,0,0,0,0,0.5,0,0.4,0.8,0.2,0,0,0,2.6],
[0,0,0,0,0,0,0,0,0,0,0,0,0,0,0,0,0,0,0,0,0,0,0,0.3,0.2,0,0,0,0.3,1.2,0.2],
[0,0,0,0,0,0,0,0,0,0,0,0,0,0,0,0,0,0,0,0,0,0.1,0,0,0,0,0.4,2.2,0.6,0,0],
[0,0,0,0,0,0,0,0,0,0,0,0,0,0,0,0,0,0,0,0,0.1,0,0.3,0,0,0.2,0,0,0,0.4,0.8],
[0,0,0,0,0,0,0,0,0,0,0,0,0,0,0,0,0,0,0,0,0,0,0,0,0.4,0,0,0,0.2,0,0]
];

// ---------- layout / styling ----------
const FONT = 'Liberation Sans, Arial, Helvetica, sans-serif';
const COLS = [
  {gridLeft:31.26, axisX:36.7, width:326.4, right:357.7, pLeft:0, nameGap:18},
  {gridLeft:416.5, axisX:422.0, width:329.8, right:746.3, pLeft:389, nameGap:14}
];
const ROWS = [{top:0, gridTop:18},{top:183, gridTop:201},{top:368, gridTop:386}];
const GRID_H = 138;
const GREEN = '#7fb446', BLUE = '#2a36ff', RED = '#ff0000', MAROON = '#7d1a1a';

const PANELS = [
  {col:0,row:0,ctrl:P1_ctrl,oper:P1_oper,mean:P1_mean,members:P1_members,yName:'mm',min:0,max:20,ticks:Y1_TICKS,label:'Neerslag/6 uur',dotted:[15],magenta:[],zero:false},
  {col:1,row:0,ctrl:P2_ctrl,oper:P2_oper,mean:P2_mean,members:P2_members,yName:'mm',min:0,max:120,ticks:Y2_TICKS,label:'Accum Neerslag',dotted:[],magenta:[],zero:false},
  {col:0,row:1,ctrl:P3_ctrl,oper:P3_oper,mean:P3_mean,members:P3_members,yName:'m/s',min:0,max:25,ticks:Y3_TICKS,label:'10m wind',dotted:[10.8,13.9,17.2,24.5],magenta:[20.8],zero:false},
  {col:1,row:1,ctrl:P4_ctrl,oper:P4_oper,mean:P4_mean,members:P4_members,yName:'m/s',min:0,max:40,ticks:Y4_TICKS,label:'Windstoten',dotted:[20,25],magenta:[28.5],zero:false},
  {col:0,row:2,ctrl:P5_ctrl,oper:P5_oper,mean:P5_mean,members:P5_members,yName:'Celsius',min:-6,max:16,ticks:Y5_TICKS,label:'T2m',dotted:[],magenta:[],zero:true},
  {col:1,row:2,ctrl:P6_ctrl,oper:P6_oper,mean:P6_mean,members:P6_members,yName:'cm',min:0,max:5,ticks:Y6_TICKS,label:'Sneeuwval/6 uur',dotted:[],magenta:[],zero:false}
];

const grids = [], xAxes = [], yAxes = [], series = [], titles = [], gfx = [];
const pairs = (hours, vals) => vals.map((v, k) => [hours[k], v]);

PANELS.forEach((p, i) => {
  const C = COLS[p.col], R = ROWS[p.row];
  grids.push({left:C.gridLeft, top:R.gridTop, width:C.width, height:GRID_H, containLabel:false, outerBoundsMode:'none'});
  xAxes.push({
    gridIndex:i, type:'value', min:0, max:360, interval:12,
    axisLine:{onZero:false, lineStyle:{color:'#000', width:1}},
    axisTick:{length:3, lineStyle:{color:'#000'}},
    minorTick:{show:true, splitNumber:2, length:2, lineStyle:{color:'#000'}},
    splitLine:{show:false}, minorSplitLine:{show:false},
    axisLabel:{margin:2, showMinLabel:true, showMaxLabel:true, hideOverlap:false,
      formatter: v => (v % 24 === 0) ? '{d|' + DAYS[v/24] + '}' : '{z|00}',
      rich:{d:{fontSize:9.5, lineHeight:10, color:'#000', fontFamily:FONT},
            z:{fontSize:6, lineHeight:4, color:'#000', fontFamily:FONT}}},
    name:'Dag', nameLocation:'middle', nameGap:12, nameMoveOverlap:false,
    nameTextStyle:{fontSize:12, fontWeight:'bold', color:'#000', fontFamily:FONT}
  });
  const off = -(C.axisX - C.gridLeft);
  const custom = p.min === -6;
  const base = {gridIndex:i, type:'value', min:p.min, max:p.max, splitLine:{show:false}};
  if (!custom) base.interval = p.ticks[1] - p.ticks[0];
  yAxes[i] = Object.assign({}, base, {
    position:'left', offset:off,
    axisLine:{show:true, onZero:false, lineStyle:{color:'#000', width:1}},
    axisTick:{show:true, length:4, lineStyle:{color:'#000'}, customValues: custom ? p.ticks : undefined},
    axisLabel:{fontSize:9.5, margin:7, color:'#000', fontFamily:FONT, customValues: custom ? p.ticks : undefined},
    name:p.yName, nameLocation:'middle', nameGap:C.nameGap, nameMoveOverlap:false,
    nameTextStyle:{fontSize:11, fontWeight:'bold', color:'#000', fontFamily:FONT}
  });
  yAxes[i + 6] = Object.assign({}, base, {
    position:'right',
    axisLine:{show:true, onZero:false, lineStyle:{color:'#555', width:2}},
    axisTick:{show:true, length:4, lineStyle:{color:'#000'}, customValues: custom ? p.ticks : undefined},
    axisLabel:{fontSize:9.5, margin:5, color:'#000', fontFamily:FONT, customValues: custom ? p.ticks : undefined}
  });

  p.members.forEach(m => series.push({
    type:'line', xAxisIndex:i, yAxisIndex:i, data:pairs(H12, m), symbol:'none', silent:true, z:2,
    lineStyle:{color:GREEN, width:1}
  }));
  series.push({type:'line', name:'Control', xAxisIndex:i, yAxisIndex:i, data:pairs(H6, p.ctrl), symbol:'none', silent:true, z:4,
    lineStyle:{color:BLUE, width:1.6, type:[5,3]}});
  series.push({type:'line', name:'Oper', xAxisIndex:i, yAxisIndex:i, data:pairs(H6, p.oper), symbol:'none', silent:true, z:5,
    lineStyle:{color:RED, width:1.5}});
  const ml = [];
  p.dotted.forEach(v => ml.push([{coord:[6, v], lineStyle:{color:'#000', width:1, type:[1,2]}}, {coord:[360, v]}]));
  p.magenta.forEach(v => ml.push([{coord:[6, v], lineStyle:{color:'#ff33ff', width:2, type:[6,3]}}, {coord:[360, v]}]));
  if (p.zero) ml.push([{coord:[6, 0], lineStyle:{color:'#000', width:3, type:'solid'}}, {coord:[360, 0]}]);
  series.push({type:'line', name:'Ens mn', xAxisIndex:i, yAxisIndex:i, data:pairs(H6, p.mean), symbol:'none', silent:true, z:6,
    lineStyle:{color:MAROON, width:2.6, type:[2,2]},
    markLine:{silent:true, symbol:['none','none'], label:{show:false}, animation:false, data:ml}});

  titles.push({
    text:'{b|Zondag}{n|    25 }{b|December}{n|  2011  (starttijd  Za 12 }{b|UTC)}',
    left:C.pLeft + 194.5, top:R.top + 2, textAlign:'center', padding:0,
    textStyle:{fontSize:11, fontFamily:FONT, rich:{
      b:{fontSize:11, fontWeight:'bold', color:'#000', fontFamily:FONT},
      n:{fontSize:11, fontWeight:'normal', color:'#000', fontFamily:FONT}}}
  });
  const cx = C.right - 38;
  gfx.push({type:'text', x:cx, y:R.gridTop + 6.5, style:{text:'De Bilt', fill:'#000', font:'10px ' + FONT, align:'center', verticalAlign:'middle', textAlign:'center', textVerticalAlign:'middle'}});
  gfx.push({type:'text', x:cx, y:R.gridTop + 17.5, style:{text:p.label, fill:'#000', font:'10px ' + FONT, align:'center', verticalAlign:'middle', textAlign:'center', textVerticalAlign:'middle'}});
  const lx = C.axisX, ly = R.gridTop;
  const leg = [
    {t:'Control', dy:7, s:{stroke:BLUE, lineWidth:1.8, lineDash:[5,3]}},
    {t:'Oper', dy:14, s:{stroke:RED, lineWidth:1.5}},
    {t:'Ens mn', dy:21, s:{stroke:MAROON, lineWidth:2.6, lineDash:[2,2]}}
  ];
  leg.forEach(l => {
    gfx.push({type:'line', shape:{x1:lx, y1:ly + l.dy, x2:lx + 22, y2:ly + l.dy}, style:l.s, z:10});
    gfx.push({type:'text', x:lx + 44, y:ly + l.dy + 0.5, z:10, style:{text:l.t, fill:'#000', font:'7.5px ' + FONT, align:'center', verticalAlign:'middle', textAlign:'center', textVerticalAlign:'middle'}});
  });
  gfx.push({type:'text', x:C.pLeft + 371, y:R.top + 174, style:{text:'Bron: ECMWF/KNMI', fill:'#0000ff', font:'bold 6.5px ' + FONT, align:'right', verticalAlign:'middle', textAlign:'right', textVerticalAlign:'middle'}});
});

gfx.push({type:'rect', shape:{x:1, y:1, width:776, height:552}, style:{fill:'none', stroke:'#b4b4ff', lineWidth:2}, z:20});
gfx.push({type:'line', shape:{x1:389.5, y1:0, x2:389.5, y2:554}, style:{stroke:'#2828e0', lineWidth:1.5}, z:20});
gfx.push({type:'line', shape:{x1:0, y1:183.5, x2:778, y2:183.5}, style:{stroke:'#2828e0', lineWidth:1.5}, z:20});
gfx.push({type:'line', shape:{x1:0, y1:368.5, x2:778, y2:368.5}, style:{stroke:'#2828e0', lineWidth:1.5}, z:20});

const chart = echarts.init(document.getElementById('c'), null, {renderer:'canvas'});
chart.setOption({
  animation:false,
  backgroundColor:'#fff',
  textStyle:{fontFamily:FONT},
  title:titles,
  grid:grids,
  xAxis:xAxes,
  yAxis:yAxes,
  series:series,
  graphic:{elements:gfx}
});
</script></body></html>
